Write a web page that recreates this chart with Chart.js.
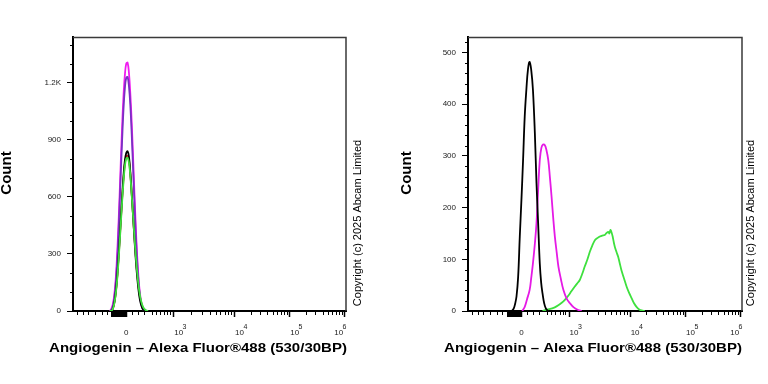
<!DOCTYPE html>
<html>
<head>
<meta charset="utf-8">
<script src="https://cdn.jsdelivr.net/npm/chart.js@4.4.1/dist/chart.umd.min.js"></script>
<style>
  body { margin: 0; background: #fff; }
  .wrap { display: flex; width: 768px; height: 384px; }
  canvas { display: block; }
</style>
</head>
<body>
<div class="wrap">
  <canvas id="left" width="384" height="384"></canvas>
  <canvas id="right" width="384" height="384"></canvas>
</div>
<script>
const X_TITLE = 'Angiogenin – Alexa Fluor®488 (530/30BP)';
const Y_TITLE = 'Count';
const COPYRIGHT = 'Copyright (c) 2025 Abcam Limited';

// x axis is in display channels (0-1000) of a biexponential scale
const xMajorTicks = [195, 367, 590, 792, 994];
const xMajorLabels = [['0', ''], ['10', '3'], ['10', '4'], ['10', '5'], ['10', '6']];
const xMinorTicks = [13, 35, 56, 81, 105, 123, 215, 239, 260, 288, 304, 319, 334, 345, 355,
  434, 473, 501, 523, 540, 555, 568, 580,
  651, 686, 712, 731, 747, 761, 772, 783,
  853, 888, 914, 933, 949, 963, 974, 985];
const xDenseTicks = [141, 144, 147, 150, 153, 156, 159, 162, 165, 168, 171, 174, 177, 180, 183, 186, 189, 192];

// left panel
const leftX = [135, 140, 145, 150, 155, 160, 165, 170, 175, 180, 185, 190, 195, 200, 205,
  210, 215, 220, 225, 230, 235, 240, 245, 250, 255, 260, 265, 270, 275];
const leftMagenta = [0, 10, 30, 70, 140, 250, 400, 580, 780, 970, 1130, 1240, 1300, 1305, 1250,
  1140, 990, 810, 620, 440, 290, 175, 95, 45, 18, 5, 0, 0, 0];
const leftPurple = [0, 5, 20, 55, 115, 215, 355, 530, 720, 900, 1060, 1170, 1225, 1230, 1180,
  1080, 930, 750, 570, 400, 260, 155, 80, 35, 12, 3, 0, 0, 0];
const leftBlack = [0, 0, 10, 35, 80, 150, 245, 360, 480, 600, 710, 790, 830, 840, 810,
  730, 620, 500, 380, 270, 180, 110, 60, 30, 12, 4, 0, 0, 0];
const leftGreen = [0, 0, 8, 30, 72, 135, 225, 335, 455, 575, 680, 760, 800, 805, 780,
  710, 610, 500, 390, 290, 205, 135, 85, 50, 27, 13, 6, 2, 0];
const leftRed = [0, 0, 10, 33, 76, 142, 235, 348, 468, 588, 695, 775, 812, 815, 790,
  720, 615, 502, 388, 285, 198, 128, 78, 44, 22, 9, 3, 0, 0];
const leftYTicks = [0, 300, 600, 900, 1200];
const leftYMax = 1440;

// right panel
const rightBlackX = [160, 167, 172, 177, 183, 189, 195, 201, 207, 213, 219, 225, 231, 237, 244,
  250, 256, 262, 267, 272, 278, 284, 292];
const rightBlack = [0, 5, 14, 28, 66, 144, 215, 292, 376, 428, 468, 482, 465, 428, 344,
  247, 170, 92, 55, 34, 15, 5, 0];
const rightMagentaX = [198, 207, 215, 225, 231, 237, 244, 250, 256, 262, 268, 274, 280, 286,
  293, 299, 305, 311, 317, 324, 330, 339, 348, 360, 372, 386, 402, 415];
const rightMagenta = [0, 8, 22, 41, 65, 92, 130, 170, 234, 292, 316, 322, 321, 312,
  292, 258, 221, 180, 144, 112, 86, 62, 41, 24, 15, 7, 2, 0];
const rightGreenX = [272, 285, 300, 312, 323, 335, 347, 359, 368, 377, 389, 398, 408, 417, 426,
  436, 445, 454, 463, 472, 481, 490, 499, 506, 512, 516, 520, 524, 528, 532, 536, 542,
  548, 554, 560, 570, 579, 588, 597, 606, 615, 625, 634, 645];
const rightGreen = [0, 2, 4, 6, 9, 13, 18, 25, 31, 38, 47, 53, 60, 72, 86,
  100, 115, 127, 137, 141, 144, 146, 147, 151, 153, 150, 157, 152, 144, 133, 124, 114,
  105, 92, 79, 62, 47, 35, 25, 15, 8, 3, 1, 0];
const rightYTicks = [0, 100, 200, 300, 400, 500];
const rightYMax = 530;

const FONT = '"Liberation Sans", Arial, sans-serif';

function pts(xs, ys) {
  return xs.map((v, i) => ({ x: v, y: ys[i] }));
}

function line(xs, ys, color, tension) {
  return {
    data: pts(xs, ys),
    borderColor: color,
    borderWidth: 1.8,
    pointRadius: 0,
    tension: tension,
    fill: false
  };
}

const decor = {
  id: 'decor',
  afterDraw(chart, args, o) {
    const { ctx, chartArea: a } = chart;
    const x = chart.scales.x, y = chart.scales.y;
    ctx.save();

    // top and right frame
    ctx.strokeStyle = '#3a3a3a';
    ctx.lineWidth = 1.5;
    ctx.beginPath();
    ctx.moveTo(a.left, a.top + 0.5);
    ctx.lineTo(a.right, a.top + 0.5);
    ctx.lineTo(a.right, a.bottom);
    ctx.stroke();

    // x ticks
    ctx.strokeStyle = '#000';
    const tick = (v, len) => {
      const px = Math.round(x.getPixelForValue(v)) + 0.5;
      ctx.beginPath();
      ctx.moveTo(px, a.bottom);
      ctx.lineTo(px, a.bottom + len);
      ctx.stroke();
    };
    ctx.lineWidth = 1;
    xMinorTicks.forEach(v => tick(v, 4));
    xDenseTicks.forEach(v => tick(v, 6));
    ctx.lineWidth = 1.5;
    xMajorTicks.forEach(v => tick(v, 6));

    // y minor ticks
    ctx.lineWidth = 1;
    for (let v = o.yMinorStep; v < y.max; v += o.yMinorStep) {
      if (o.yTicks.includes(v)) continue;
      const py = Math.round(y.getPixelForValue(v)) + 0.5;
      ctx.beginPath();
      ctx.moveTo(a.left - 3, py);
      ctx.lineTo(a.left, py);
      ctx.stroke();
    }

    // x tick labels, 10 with raised exponent
    ctx.fillStyle = '#222';
    ctx.textBaseline = 'middle';
    ctx.textAlign = 'left';
    xMajorTicks.forEach((v, i) => {
      const [base, sup] = xMajorLabels[i];
      const px = x.getPixelForValue(v);
      ctx.font = '8px ' + FONT;
      const bw = ctx.measureText(base).width;
      ctx.font = '7px ' + FONT;
      const sw = sup ? ctx.measureText(sup).width : 0;
      let left = sup ? px + 1 : px - bw / 2;
      if (left + bw + sw > a.right + 1) left = a.right + 1 - bw - sw;
      ctx.font = '8px ' + FONT;
      ctx.fillText(base, left, a.bottom + 21.5);
      if (sup) {
        ctx.font = '7px ' + FONT;
        ctx.fillText(sup, left + bw - 0.5, a.bottom + 16);
      }
    });

    // axis titles
    ctx.fillStyle = '#000';
    ctx.textAlign = 'center';
    ctx.font = 'bold 15px ' + FONT;
    ctx.save();
    ctx.translate(o.countX, (a.top + a.bottom) / 2 - 1);
    ctx.rotate(-Math.PI / 2);
    ctx.fillText(Y_TITLE, 0, 0);
    ctx.restore();

    ctx.save();
    ctx.font = 'bold 12px ' + FONT;
    ctx.translate(o.titleX, 349);
    ctx.scale(1.25, 1);
    ctx.fillText(X_TITLE, 0, 0);
    ctx.restore();

    ctx.save();
    ctx.font = '11px ' + FONT;
    ctx.translate(o.copyX, 223);
    ctx.rotate(-Math.PI / 2);
    ctx.fillText(COPYRIGHT, 0, 0);
    ctx.restore();

    ctx.restore();
  }
};

function makeChart(id, datasets, c) {
  return new Chart(document.getElementById(id), {
    type: 'line',
    data: { datasets: datasets },
    options: {
      responsive: false,
      animation: false,
      layout: { padding: { top: 37, right: c.padRight, bottom: 0, left: 0 } },
      plugins: {
        legend: { display: false },
        tooltip: { enabled: false },
        decor: { yMinorStep: c.yMinorStep, yTicks: c.yTicks, countX: c.countX, titleX: c.titleX, copyX: c.copyX }
      },
      scales: {
        x: {
          type: 'linear',
          min: 0,
          max: 1000,
          ticks: { display: false },
          grid: { display: false },
          border: { display: true, color: '#000', width: 2 },
          afterFit: s => { s.height = 73; }
        },
        y: {
          type: 'linear',
          min: 0,
          max: c.yMax,
          afterBuildTicks: s => { s.ticks = c.yTicks.map(v => ({ value: v })); },
          ticks: {
            color: '#222',
            padding: 6,
            font: { family: FONT, size: 8 },
            callback: v => (v >= 1000 ? (v / 1000).toFixed(1) + 'K' : String(v))
          },
          grid: { drawOnChartArea: false, drawTicks: true, tickLength: 6, tickColor: '#000', tickWidth: 1 },
          border: { display: true, color: '#000', width: 2 },
          afterFit: s => { s.width = c.yWidth; }
        }
      }
    },
    plugins: [decor]
  });
}

makeChart('left', [
  line(leftX, leftGreen, '#3ee03e', 0.4),
  line(leftX, leftBlack, '#000000', 0.4),
  line(leftX, leftPurple, '#7a2fc4', 0.4),
  line(leftX, leftMagenta, '#f01cf0', 0.4),
  line(leftX, leftRed, '#e02020', 0.4)
], { yMax: leftYMax, yTicks: leftYTicks, yMinorStep: 100, yWidth: 73, padRight: 38, countX: 7, titleX: 198, copyX: 357.5 });

makeChart('right', [
  line(rightBlackX, rightBlack, '#000000', 0.4),
  line(rightMagentaX, rightMagenta, '#e51ae5', 0.4),
  line(rightGreenX, rightGreen, '#3ee03e', 0.25)
], { yMax: rightYMax, yTicks: rightYTicks, yMinorStep: 20, yWidth: 84, padRight: 26, countX: 22.7, titleX: 209, copyX: 367 });
</script>
</body>
</html>
